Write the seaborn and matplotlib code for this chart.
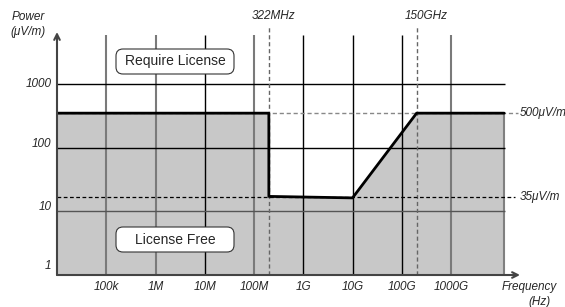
import numpy as np
import pandas as pd
import seaborn as sns
import matplotlib.pyplot as plt
from matplotlib.patches import FancyBboxPatch
from matplotlib.transforms import offset_copy

# limit curve (as drawn in the schematic)
freq_hz = [1e4, 2.0e8, 2.0e8, 1e10, 2.0e11, 1.2e13]
level_uv = [350, 350, 17.2, 16.3, 350, 350]

x_ticks = [1e5, 1e6, 1e7, 1e8, 1e9, 1e10, 1e11, 1e12]
x_labels = ["100k", "1M", "10M", "100M", "1G", "10G", "100G", "1000G"]
x_grid_gray = [True, True, False, True, False, False, False, True]
y_ticks = [1, 10, 100, 1000]
y_labels = ["1", "10", "100", "1000"]

marker_freqs = [2.0e8, 2.0e11]
marker_labels = ["322MHz", "150GHz"]
ref_levels = [350, 16.6]
ref_labels = ["500μV/m", "35μV/m"]
region_labels = ["Require License", "License Free"]

sns.set_style("white")
plt.rcParams['font.family'] = ['Liberation Sans', 'DejaVu Sans']

W, H = 565, 307
fig = plt.figure(figsize=(W / 100, H / 100), dpi=100)
ax = fig.add_axes([57 / W, 32 / H, 463 / W, 243 / H])
ax.set_xscale("log")
ax.set_yscale("log")
xmin, xmax = 1e4, 10 ** 13.4
ymin, ymax = 1, 10 ** 3.82
ax.set_xlim(xmin, xmax)
ax.set_ylim(ymin, ymax)

df = pd.DataFrame({"freq": freq_hz, "level": level_uv})
ax.fill_between(df["freq"], ymin, df["level"], color="#c8c8c8", lw=0, zorder=1)
ax.vlines(freq_hz[-1], ymin, level_uv[-1], color="#808080", lw=1.5, zorder=2)

grid_top = 10 ** 3.77
grid_right = 10 ** 13.1
for xt, gray in zip(x_ticks, x_grid_gray):
    ax.vlines(xt, ymin, grid_top, color="#7a7a7a" if gray else "black",
              lw=1.5 if gray else 1.0, zorder=2)
for yt in y_ticks[1:]:
    ax.hlines(yt, xmin, grid_right, color="#555555" if yt == 10 else "black",
              lw=1.0, zorder=2)

sns.lineplot(data=df, x="freq", y="level", color="black", lw=2,
             sort=False, estimator=None, ax=ax, zorder=4)

# dashed markers
label_shift = [5, 10]
for f, lab, dx in zip(marker_freqs, marker_labels, label_shift):
    ax.vlines(f, ymin, 10 ** 3.92, color="#666666", lw=1, ls=(0, (3, 2)),
              clip_on=False, zorder=3)
    tr = offset_copy(ax.transData, fig=fig, x=dx * 0.72, y=0, units="points")
    ax.text(f, 10 ** 4.07, lab, transform=tr, ha="center", va="center",
            fontsize=8.5, style="italic", clip_on=False)
ax.hlines(ref_levels[0], xmin, 10 ** 13.35, color="#888888", lw=1,
          ls=(0, (3, 2)), clip_on=False, zorder=3)
ax.hlines(ref_levels[1], xmin, 10 ** 13.3, color="black", lw=0.9,
          ls=(0, (3, 2)), clip_on=False, zorder=3)
for lvl, lab in zip(ref_levels, ref_labels):
    ax.text(10 ** 13.39, lvl, lab, ha="left", va="center",
            fontsize=8.5, style="italic", clip_on=False)

# region boxes (pixel layout, y from top)
for (top, bottom), lab in zip([(49, 74), (227, 252)], region_labels):
    box = FancyBboxPatch((116 / 100, (H - bottom) / 100), 118 / 100,
                         (bottom - top) / 100,
                         boxstyle="round,pad=0,rounding_size=0.07",
                         transform=fig.dpi_scale_trans, fc="white",
                         ec="#333333", lw=0.8, zorder=5)
    fig.patches.append(box)
    fig.text(175 / W, 1 - (top + bottom) / 2 / H, lab, ha="center",
             va="center", fontsize=10, zorder=6)

# axes and labels
for s in ax.spines.values():
    s.set_visible(False)
ax.set_xticks([])
ax.set_yticks([])
ax.minorticks_off()
ax.set_xlabel("")
ax.set_ylabel("")
ax.annotate("", xy=(1.0, 0), xytext=(0, 0), xycoords="axes fraction",
            arrowprops=dict(arrowstyle="->", color="#444444", lw=1.5,
                            shrinkA=0, shrinkB=0), zorder=6)
ax.annotate("", xy=(0, 1.0), xytext=(0, 0), xycoords="axes fraction",
            arrowprops=dict(arrowstyle="->", color="#444444", lw=1.5,
                            shrinkA=0, shrinkB=0), zorder=6)

xtr = offset_copy(ax.get_xaxis_transform(), fig=fig, x=0, y=-8.6, units="points")
for xt, lab in zip(x_ticks, x_labels):
    ax.text(xt, 0, lab, transform=xtr, ha="center", va="center",
            fontsize=8.5, style="italic")
y_lift = [6.5, 3, 3, 0]  # points
for yt, lab, dy in zip(y_ticks, y_labels, y_lift):
    ytr = offset_copy(ax.get_yaxis_transform(), fig=fig, x=-4, y=dy,
                      units="points")
    ax.text(0, yt, lab, transform=ytr, ha="right", va="center",
            fontsize=8.5, style="italic")

fig.text(28 / W, 1 - 17 / H, "Power", ha="center", va="center",
         fontsize=8.5, style="italic")
fig.text(28 / W, 1 - 32 / H, "(μV/m)", ha="center", va="center",
         fontsize=8.5, style="italic")
fig.text(529 / W, 1 - 287 / H, "Frequency", ha="center", va="center",
         fontsize=8.5, style="italic")
fig.text(540 / W, 1 - 302 / H, "(Hz)", ha="center", va="center",
         fontsize=8.5, style="italic")

fig.savefig("out.png", dpi=100)
